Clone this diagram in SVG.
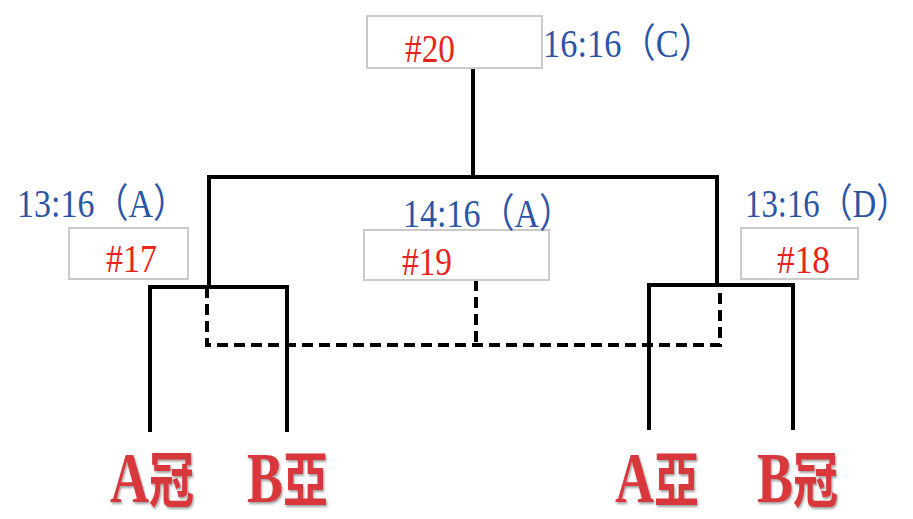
<svg xmlns="http://www.w3.org/2000/svg" width="913" height="519" viewBox="0 0 913 519">
<style>
.box{fill:#fff;stroke:#cacaca;stroke-width:2}
.num{font-family:"Liberation Serif","Noto Sans CJK TC",serif;fill:#e8231c;font-size:40px}
.score{font-family:"Liberation Serif","Noto Sans CJK TC",serif;fill:#2b55a6;font-size:40px}
.line{fill:none;stroke:#000;stroke-width:4}
.dash{fill:none;stroke:#000;stroke-width:4;stroke-dasharray:11 6}
.team{font-family:"Liberation Serif","Noto Sans CJK TC",serif;font-weight:bold;fill:#d8383a;filter:url(#emb)}
.lat{font-size:72px}
.cjk{font-size:60px}
</style>
<defs>
<filter id="emb" x="-10%" y="-10%" width="130%" height="130%">
<feDropShadow dx="1.5" dy="2" stdDeviation="1.2" flood-color="#555" flood-opacity="0.55"/>
</filter>
</defs>
<rect width="913" height="519" fill="#fff"/>
<g id="connectors">
<path class="line" d="M473 68 V177"/>
<path class="line" d="M209 287 V177 H717 V287"/>
<path class="line" d="M150 432 V287 H287 V432"/>
<path class="line" d="M649 430 V285 H793 V430"/>
<path class="dash" d="M207 287 V345 H720 V287"/>
<path class="dash" d="M476 280 V345"/>
</g>
<g id="m20">
<rect class="box" x="367" y="16" width="175" height="52"/>
<text class="num" x="405" y="62" textLength="50" lengthAdjust="spacingAndGlyphs">#20</text>
<text class="score" transform="translate(543,57) scale(0.86,1)">16:16（C）</text>
</g>
<g id="m17">
<rect class="box" x="69" y="228" width="119" height="51"/>
<text class="num" x="106" y="272" textLength="51" lengthAdjust="spacingAndGlyphs">#17</text>
<text class="score" transform="translate(17,217) scale(0.85,1)">13:16（A）</text>
</g>
<g id="m19">
<rect class="box" x="364" y="230" width="185" height="50"/>
<text class="num" x="402" y="275" textLength="50" lengthAdjust="spacingAndGlyphs">#19</text>
<text class="score" transform="translate(403,227) scale(0.85,1)">14:16（A）</text>
</g>
<g id="m18">
<rect class="box" x="741" y="228" width="117" height="51"/>
<text class="num" x="777" y="273" textLength="53" lengthAdjust="spacingAndGlyphs">#18</text>
<text class="score" transform="translate(745,217) scale(0.82,1)">13:16（D）</text>
</g>
<g id="teamA1">
<text class="team" transform="translate(110,502) scale(0.75,1)"><tspan class="lat">A</tspan><tspan class="cjk">冠</tspan></text>
</g>
<g id="teamB2">
<text class="team" transform="translate(247,502) scale(0.75,1)"><tspan class="lat">B</tspan><tspan class="cjk">亞</tspan></text>
</g>
<g id="teamA2">
<text class="team" transform="translate(615,502) scale(0.75,1)"><tspan class="lat">A</tspan><tspan class="cjk">亞</tspan></text>
</g>
<g id="teamB1">
<text class="team" transform="translate(757,502) scale(0.75,1)"><tspan class="lat">B</tspan><tspan class="cjk">冠</tspan></text>
</g>
</svg>
